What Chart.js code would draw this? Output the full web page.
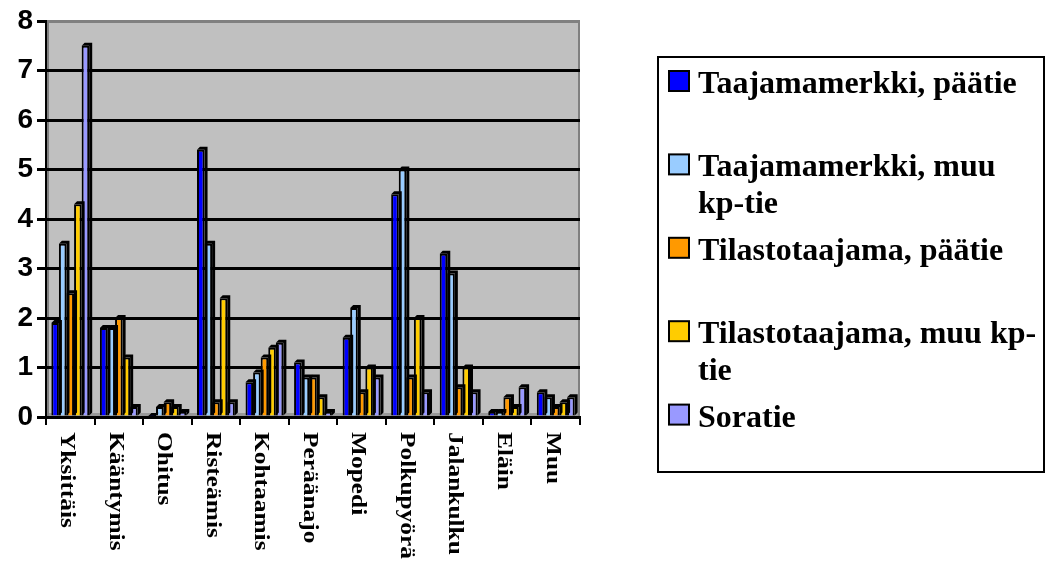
<!DOCTYPE html>
<html>
<head>
<meta charset="utf-8">
<script src="https://cdn.jsdelivr.net/npm/chart.js@4.4.0/dist/chart.umd.min.js"></script>
<style>
  html, body { margin: 0; padding: 0; background: #fff; }
</style>
</head>
<body>
<canvas id="chart" width="1051" height="561"></canvas>
<script>
// categories (onnettomuusluokat)
var categories = ["Yksittäis", "Kääntymis", "Ohitus", "Risteämis", "Kohtaamis", "Peräänajo",
                  "Mopedi", "Polkupyörä", "Jalankulku", "Eläin", "Muu"];

var seriesNames = ["Taajamamerkki, päätie", "Taajamamerkki, muu kp-tie", "Tilastotaajama, päätie",
                   "Tilastotaajama, muu kp-tie", "Soratie"];
var seriesColors = ["#0000ff", "#99ccff", "#ff9900", "#ffcc00", "#9999ff"];

// values
var taajamaPaatie = [1.9, 1.8, 0.02, 5.4, 0.7, 1.1, 1.6, 4.5, 3.3, 0.1, 0.5];
var taajamaMuu    = [3.5, 1.8, 0.2, 3.5, 0.9, 0.8, 2.2, 5.0, 2.9, 0.1, 0.4];
var tilastoPaatie = [2.5, 2.0, 0.3, 0.3, 1.2, 0.8, 0.5, 0.8, 0.6, 0.4, 0.2];
var tilastoMuu    = [4.3, 1.2, 0.2, 2.4, 1.4, 0.4, 1.0, 2.0, 1.0, 0.2, 0.3];
var soratie       = [7.5, 0.2, 0.1, 0.3, 1.5, 0.1, 0.8, 0.5, 0.5, 0.6, 0.4];
var allValues = [taajamaPaatie, taajamaMuu, tilastoPaatie, tilastoMuu, soratie];

var yTicks = [0, 1, 2, 3, 4, 5, 6, 7, 8];

var DEPTH = 3;
var SERIF = "'Liberation Serif', 'Times New Roman', Times, serif";

var datasets = [];
for (var i = 0; i < seriesNames.length; i++) {
  datasets.push({
    label: seriesNames[i],
    data: allValues[i],
    backgroundColor: seriesColors[i],
    borderColor: "#000",
    borderWidth: 2,
    categoryPercentage: 0.78,
    barPercentage: 1.0
  });
}

// gray plot area, floor and wall edges
var plotBg = {
  id: "plotBg",
  beforeDraw: function(chart) {
    var a = chart.chartArea, ctx = chart.ctx;
    ctx.save();
    ctx.fillStyle = "#c0c0c0";
    ctx.fillRect(a.left, a.top, a.right - a.left, a.bottom - a.top);
    ctx.fillStyle = "#999999";
    ctx.fillRect(a.left, a.bottom - 4, a.right - a.left, 4);
    ctx.strokeStyle = "#808080";
    ctx.lineWidth = 2;
    ctx.beginPath();
    ctx.moveTo(a.left + 2, a.bottom);
    ctx.lineTo(a.left + 2, a.top);
    ctx.lineTo(a.right - 1, a.top);
    ctx.lineTo(a.right - 1, a.bottom);
    ctx.stroke();
    ctx.restore();
  }
};

// fake 3D depth behind each bar
var barDepth = {
  id: "barDepth",
  beforeDatasetDraw: function(chart, args) {
    var ctx = chart.ctx;
    ctx.save();
    ctx.fillStyle = "#000";
    args.meta.data.forEach(function(el) {
      var p = el.getProps(["x", "y", "base", "width"], true);
      var l = p.x - p.width / 2, r = p.x + p.width / 2;
      ctx.beginPath();
      ctx.moveTo(l, p.y);
      ctx.lineTo(l + DEPTH, p.y - DEPTH);
      ctx.lineTo(r + DEPTH, p.y - DEPTH);
      ctx.lineTo(r + DEPTH, p.base - DEPTH);
      ctx.lineTo(r, p.base);
      ctx.lineTo(r, p.y);
      ctx.closePath();
      ctx.fill();
    });
    ctx.restore();
  }
};

// category labels rotated to read top-to-bottom
var xLabels = {
  id: "xLabels",
  afterDraw: function(chart) {
    var ctx = chart.ctx, xs = chart.scales.x, a = chart.chartArea;
    ctx.save();
    ctx.fillStyle = "#000";
    ctx.font = "bold 20px " + SERIF;
    ctx.textAlign = "left";
    ctx.textBaseline = "middle";
    categories.forEach(function(c, i) {
      ctx.save();
      ctx.translate(xs.getPixelForValue(i) - 4, a.bottom + 15);
      ctx.rotate(Math.PI / 2);
      ctx.scale(1.27, 1);
      ctx.fillText(c, 0, 0);
      ctx.restore();
    });
    ctx.restore();
  }
};

// boxed legend on the right, labels wrapped like the original
function wrapText(ctx, text, maxW) {
  var parts = text.split(/(?<= )|(?<=-)/);
  var lines = [], line = "";
  parts.forEach(function(p) {
    var test = line + p;
    if (line && ctx.measureText(test.trimEnd()).width > maxW) {
      lines.push(line.trimEnd());
      line = p;
    } else {
      line = test;
    }
  });
  if (line) lines.push(line.trimEnd());
  return lines;
}

var boxLegend = {
  id: "boxLegend",
  afterDraw: function(chart) {
    var ctx = chart.ctx;
    ctx.save();
    ctx.strokeStyle = "#000";
    ctx.lineWidth = 2;
    ctx.strokeRect(658, 57, 386, 415);
    ctx.font = "bold 32px " + SERIF;
    ctx.textAlign = "left";
    ctx.textBaseline = "alphabetic";
    chart.data.datasets.forEach(function(ds, i) {
      var top = 71 + 83.4 * i;
      ctx.fillStyle = ds.backgroundColor;
      ctx.fillRect(669, top, 20, 20);
      ctx.strokeRect(669, top, 20, 20);
      ctx.fillStyle = "#000";
      var lines = wrapText(ctx, ds.label, 345);
      lines.forEach(function(ln, k) {
        ctx.fillText(ln, 698, top + 22 + 37 * k);
      });
    });
    ctx.restore();
  }
};

new Chart(document.getElementById("chart"), {
  type: "bar",
  data: { labels: categories, datasets: datasets },
  options: {
    responsive: false,
    animation: false,
    layout: { padding: { left: 0, top: 21, right: 471, bottom: 0 } },
    plugins: { legend: { display: false }, tooltip: { enabled: false } },
    scales: {
      x: {
        afterFit: function(s) { s.height = 144; },
        ticks: { display: false },
        grid: { drawOnChartArea: false, drawTicks: true, tickLength: 8, color: "#000", lineWidth: 2 },
        border: { color: "#000", width: 3 }
      },
      y: {
        min: 0, max: 8,
        afterFit: function(s) { s.width = 46; },
        afterBuildTicks: function(s) { s.ticks = yTicks.map(function(v) { return { value: v }; }); },
        ticks: {
          color: "#000", padding: 4,
          font: { family: "'Liberation Sans', Arial, sans-serif", size: 28, weight: "bold" }
        },
        grid: {
          color: function(c) { return c.tick && c.tick.value === 8 ? "#808080" : "#000"; },
          tickColor: "#000", lineWidth: 3, tickLength: 9
        },
        border: { color: "#000", width: 2 }
      }
    }
  },
  plugins: [plotBg, barDepth, xLabels, boxLegend]
});
</script>
</body>
</html>
